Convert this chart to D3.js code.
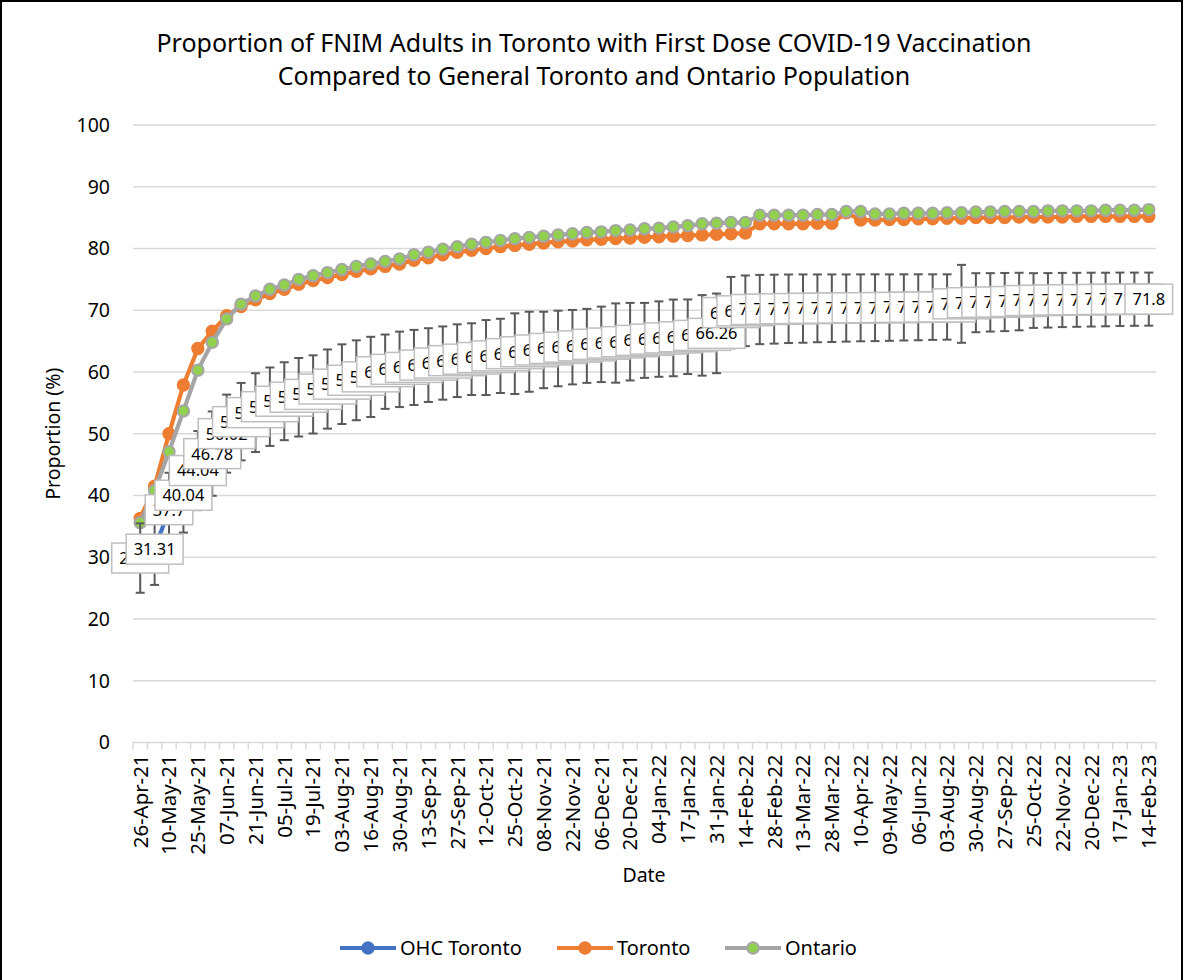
<!DOCTYPE html>
<html>
<head>
<meta charset="utf-8">
<script src="https://cdn.jsdelivr.net/npm/d3@7"></script>
<style>
  body { margin: 0; background: #fff; }
  svg { display: block; font-family: "Noto Sans", sans-serif; }
</style>
</head>
<body>
<script>
const dates = [
  '26-Apr-21', '03-May-21', '10-May-21', '17-May-21', '25-May-21', '31-May-21', '07-Jun-21', '14-Jun-21',
  '21-Jun-21', '28-Jun-21', '05-Jul-21', '12-Jul-21', '19-Jul-21', '26-Jul-21', '03-Aug-21', '09-Aug-21',
  '16-Aug-21', '23-Aug-21', '30-Aug-21', '07-Sep-21', '13-Sep-21', '20-Sep-21', '27-Sep-21', '04-Oct-21',
  '12-Oct-21', '18-Oct-21', '25-Oct-21', '01-Nov-21', '08-Nov-21', '15-Nov-21', '22-Nov-21', '29-Nov-21',
  '06-Dec-21', '13-Dec-21', '20-Dec-21', '29-Dec-21', '04-Jan-22', '10-Jan-22', '17-Jan-22', '24-Jan-22',
  '31-Jan-22', '07-Feb-22', '14-Feb-22', '22-Feb-22', '28-Feb-22', '07-Mar-22', '13-Mar-22', '21-Mar-22',
  '28-Mar-22', '04-Apr-22', '10-Apr-22', '25-Apr-22', '09-May-22', '23-May-22', '06-Jun-22', '05-Jul-22',
  '03-Aug-22', '16-Aug-22', '30-Aug-22', '13-Sep-22', '27-Sep-22', '11-Oct-22', '25-Oct-22', '08-Nov-22',
  '22-Nov-22', '06-Dec-22', '20-Dec-22', '03-Jan-23', '17-Jan-23', '31-Jan-23', '14-Feb-23'
]

const ohcToronto = [
  29.87, 31.31, 37.7, 40.04, 44.04, 46.78, 50.02, 51.96, 53.42, 54.38,
  55.27, 55.91, 56.37, 57.24, 58.03, 58.66, 59.21, 60.05, 60.43, 60.74,
  61.12, 61.45, 61.83, 62.08, 62.34, 62.61, 62.97, 63.28, 63.57, 63.81,
  64.02, 64.23, 64.48, 64.69, 64.91, 65.12, 65.33, 65.52, 65.71, 65.93,
  66.26, 69.62, 69.91, 70.12, 70.18, 70.24, 70.27, 70.31, 70.33, 70.36,
  70.39, 70.41, 70.43, 70.46, 70.48, 70.51, 70.53, 71.04, 71.22, 71.28,
  71.33, 71.41, 71.57, 71.61, 71.66, 71.69, 71.72, 71.74, 71.77, 71.79,
  71.8
]

// half width of the error bar on each OHC point
const ohcError = [
  5.62, 5.79, 5.98, 6.05, 6.41, 6.83, 6.32, 6.27, 6.38, 6.35,
  6.31, 6.36, 6.33, 6.41, 6.45, 6.47, 6.49, 6.02, 6.11, 6.08,
  5.97, 5.93, 5.89, 5.81, 6.07, 6.01, 6.53, 6.48, 6.19, 6.12,
  6.03, 5.99, 6.11, 6.42, 6.28, 6.07, 6.11, 6.21, 6.04, 6.52,
  6.45, 5.78, 5.72, 5.61, 5.58, 5.55, 5.53, 5.49, 5.47, 5.44,
  5.42, 5.41, 5.38, 5.36, 5.34, 5.31, 5.29, 6.31, 4.78, 4.73,
  4.71, 4.66, 4.43, 4.41, 4.39, 4.37, 4.36, 4.34, 4.33, 4.31,
  4.3
]

const toronto = [
  36.3, 41.5, 50.0, 57.9, 63.8, 66.6, 69.1, 70.6, 71.7, 72.7,
  73.4, 74.2, 74.8, 75.3, 75.8, 76.3, 76.7, 77.1, 77.5, 78.1,
  78.5, 79.0, 79.4, 79.7, 80.0, 80.3, 80.5, 80.7, 80.9, 81.1,
  81.2, 81.4, 81.5, 81.6, 81.7, 81.8, 81.9, 82.0, 82.1, 82.2,
  82.3, 82.4, 82.5, 84.0, 84.0, 84.0, 84.0, 84.1, 84.1, 85.8,
  84.6, 84.6, 84.7, 84.7, 84.8, 84.8, 84.9, 84.9, 85.0, 85.0,
  85.0, 85.1, 85.1, 85.1, 85.1, 85.2, 85.2, 85.2, 85.2, 85.2,
  85.2
]

const ontario = [
  35.6, 40.8, 47.1, 53.7, 60.3, 64.8, 68.6, 71.0, 72.3, 73.4,
  74.1, 75.0, 75.6, 76.1, 76.6, 77.1, 77.5, 77.9, 78.3, 79.0,
  79.4, 79.9, 80.3, 80.7, 81.0, 81.3, 81.6, 81.8, 82.0, 82.2,
  82.4, 82.6, 82.7, 82.9, 83.0, 83.2, 83.3, 83.5, 83.7, 84.0,
  84.1, 84.2, 84.2, 85.4, 85.4, 85.4, 85.4, 85.5, 85.5, 86.0,
  86.0, 85.6, 85.6, 85.7, 85.7, 85.7, 85.8, 85.8, 85.9, 85.9,
  86.0, 86.0, 86.0, 86.1, 86.1, 86.1, 86.1, 86.2, 86.2, 86.2,
  86.3
]

const yTicks = [0, 10, 20, 30, 40, 50, 60, 70, 80, 90, 100]
const titleLines = [
  'Proportion of FNIM Adults in Toronto with First Dose COVID-19 Vaccination',
  'Compared to General Toronto and Ontario Population'
]

const series = [
  {name: 'OHC Toronto', values: ohcToronto, line: '#4472C4', fill: '#4472C4', stroke: '#4472C4'},
  {name: 'Toronto', values: toronto, line: '#ED7D31', fill: '#ED7D31', stroke: '#ED7D31'},
  {name: 'Ontario', values: ontario, line: '#A5A5A5', fill: '#92D050', stroke: '#A5A5A5'}
]

const width = 1186
const height = 980
const plot = {left: 133, right: 1156, top: 125, bottom: 742.5}

const svg = d3.select('body').append('svg')
    .attr('width', width)
    .attr('height', height)

svg.append('rect')
    .attr('x', 1)
    .attr('y', 1)
    .attr('width', 1181)
    .attr('height', 1000)
    .attr('fill', '#fff')
    .attr('stroke', '#000')
    .attr('stroke-width', 2)

const x = d3.scaleBand()
  .domain(dates)
  .range([plot.left, plot.right])
const cx = d => x(d) + x.bandwidth() / 2

const y = d3.scaleLinear()
  .domain([0, 100])
  .range([plot.bottom, plot.top])

svg.selectAll('.title')
    .data(titleLines)
  .enter().append('text')
    .attr('class', 'title')
    .attr('x', 594)
    .attr('y', (d, i) => 52 + i * 33)
    .attr('text-anchor', 'middle')
    .style('font-size', '25px')
    .style('fill', '#000')
    .text(d => d)

// gridlines
svg.append('g')
  .selectAll('line')
    .data(yTicks.filter(t => t > 0))
  .enter().append('line')
    .attr('x1', plot.left)
    .attr('x2', plot.right)
    .attr('y1', d => y(d))
    .attr('y2', d => y(d))
    .attr('stroke', '#d9d9d9')
    .attr('stroke-width', 1.5)

const yAxis = svg.append('g')
    .attr('transform', 'translate(' + plot.left + ',0)')
    .call(d3.axisLeft(y).tickValues(yTicks).tickSize(0).tickPadding(23))
yAxis.select('.domain').remove()
yAxis.selectAll('text')
    .style('font-family', '"Noto Sans", sans-serif')
    .style('font-size', '19.5px')
    .style('fill', '#000')

// category axis, every second date labelled
const xAxis = svg.append('g')
    .attr('transform', 'translate(0,' + plot.bottom + ')')
    .call(d3.axisBottom(x).tickValues(dates.filter((d, i) => i % 2 === 0)).tickSize(0))
xAxis.select('.domain').remove()
xAxis.selectAll('text')
    .attr('transform', 'rotate(-90)')
    .attr('x', -12)
    .attr('y', 0)
    .attr('dy', '0.36em')
    .style('text-anchor', 'end')
    .style('font-family', '"Noto Sans", sans-serif')
    .style('font-size', '20.4px')
    .style('fill', '#000')

xAxis.append('line')
    .attr('x1', plot.left)
    .attr('x2', plot.right)
    .attr('stroke', '#d9d9d9')
    .attr('stroke-width', 1.5)

xAxis.selectAll('.boundary')
    .data(dates.concat(['end']))
  .enter().append('line')
    .attr('class', 'boundary')
    .attr('x1', (d, i) => i < dates.length ? x(d) : plot.right)
    .attr('x2', (d, i) => i < dates.length ? x(d) : plot.right)
    .attr('y1', 0)
    .attr('y2', 7)
    .attr('stroke', '#d9d9d9')
    .attr('stroke-width', 1.5)

svg.append('text')
    .attr('transform', 'translate(60,' + ((plot.top + plot.bottom) / 2) + ') rotate(-90)')
    .attr('text-anchor', 'middle')
    .style('font-size', '19.5px')
    .text('Proportion (%)')

svg.append('text')
    .attr('x', 644)
    .attr('y', 882)
    .attr('text-anchor', 'middle')
    .style('font-size', '19.5px')
    .text('Date')

const line = d3.line()
  .x((v, i) => cx(dates[i]))
  .y(v => y(v))

series.forEach(s => {
  svg.append('path')
      .datum(s.values)
      .attr('fill', 'none')
      .attr('stroke', s.line)
      .attr('stroke-width', 4.2)
      .attr('stroke-linejoin', 'round')
      .attr('d', line)

  svg.append('g')
    .selectAll('circle')
      .data(s.values)
    .enter().append('circle')
      .attr('cx', (v, i) => cx(dates[i]))
      .attr('cy', v => y(v))
      .attr('r', 5.7)
      .attr('fill', s.fill)
      .attr('stroke', s.stroke)
      .attr('stroke-width', 2)
})

// error bars on the OHC series
const bars = svg.append('g')
    .attr('stroke', '#595959')
    .attr('stroke-width', 2)
  .selectAll('g')
    .data(ohcToronto)
  .enter().append('g')
    .attr('transform', (v, i) => 'translate(' + cx(dates[i]) + ',0)')

bars.append('line')
    .attr('y1', (v, i) => y(v - ohcError[i]))
    .attr('y2', (v, i) => y(v + ohcError[i]))
bars.append('line')
    .attr('x1', -4.5).attr('x2', 4.5)
    .attr('y1', (v, i) => y(v - ohcError[i]))
    .attr('y2', (v, i) => y(v - ohcError[i]))
bars.append('line')
    .attr('x1', -4.5).attr('x2', 4.5)
    .attr('y1', (v, i) => y(v + ohcError[i]))
    .attr('y2', (v, i) => y(v + ohcError[i]))

// data labels, each drawn over the one before it
const labels = svg.append('g')
  .selectAll('g')
    .data(ohcToronto)
  .enter().append('g')
    .attr('transform', (v, i) => 'translate(' + cx(dates[i]) + ',' + y(v) + ')')

labels.append('rect')
labels.append('text')
    .attr('text-anchor', 'middle')
    .attr('dy', '0.36em')
    .style('font-size', '16.4px')
    .text(v => String(v))

labels.each(function () {
  const g = d3.select(this)
  const w = g.select('text').node().getComputedTextLength() + 15
  g.select('rect')
      .attr('x', -w / 2)
      .attr('y', -15)
      .attr('width', w)
      .attr('height', 30)
      .attr('fill', '#fff')
      .attr('stroke', '#bfbfbf')
      .attr('stroke-width', 1.5)
})

// legend
const legendX = [340, 557, 725]
const legend = svg.selectAll('.legend')
    .data(series)
  .enter().append('g')
    .attr('class', 'legend')
    .attr('transform', (d, i) => 'translate(' + legendX[i] + ',948)')

legend.append('line')
    .attr('x1', 0)
    .attr('x2', 56)
    .attr('stroke', d => d.line)
    .attr('stroke-width', 4.2)
legend.append('circle')
    .attr('cx', 28)
    .attr('r', 5.7)
    .attr('fill', d => d.fill)
    .attr('stroke', d => d.stroke)
    .attr('stroke-width', 2)
legend.append('text')
    .attr('x', 60)
    .attr('dy', '0.36em')
    .style('font-size', '20px')
    .text(d => d.name)
</script>
</body>
</html>
